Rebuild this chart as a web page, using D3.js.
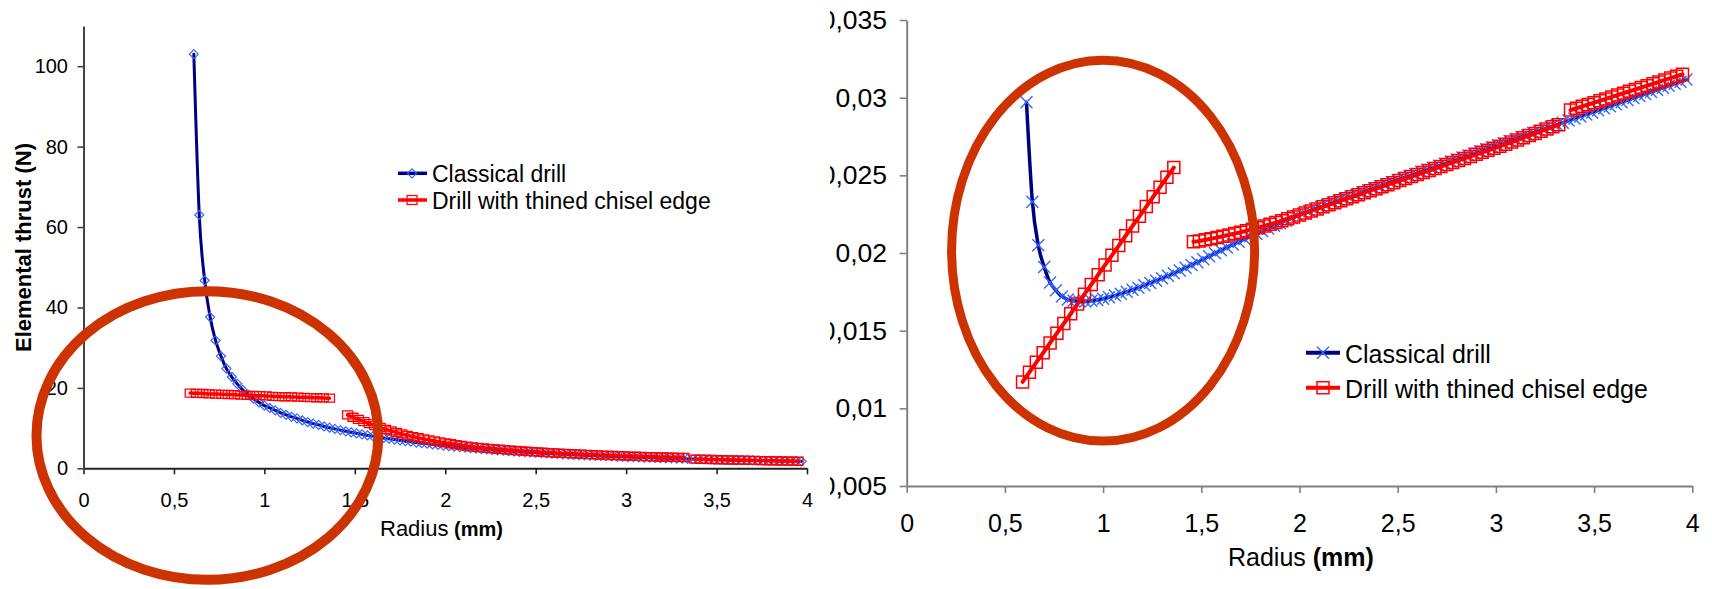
<!DOCTYPE html>
<html><head><meta charset="utf-8">
<script src="https://cdn.jsdelivr.net/npm/d3@7"></script>
<style>body{margin:0;background:#fff;overflow:hidden}</style>
</head><body>
<svg id="c" width="1712" height="589"></svg>
<script>
// ---------------- DATA ----------------
const seriesNames = ["Classical drill", "Drill with thined chisel edge"];

const classicalRadius = [
0.61,0.64,0.67,0.70,0.73,0.76,0.79,0.82,0.85,0.88,
0.91,0.94,0.97,1.00,1.03,1.06,1.09,1.12,1.15,1.18,
1.21,1.24,1.27,1.30,1.33,1.36,1.39,1.42,1.45,1.48,
1.51,1.54,1.57,1.60,1.63,1.66,1.69,1.72,1.75,1.78,
1.81,1.84,1.87,1.90,1.93,1.96,1.99,2.02,2.05,2.08,
2.11,2.14,2.17,2.20,2.23,2.26,2.29,2.32,2.35,2.38,
2.41,2.44,2.47,2.50,2.53,2.56,2.59,2.62,2.65,2.68,
2.71,2.74,2.77,2.80,2.83,2.86,2.89,2.92,2.95,2.98,
3.01,3.04,3.07,3.10,3.13,3.16,3.19,3.22,3.25,3.28,
3.31,3.34,3.37,3.40,3.43,3.46,3.49,3.52,3.55,3.58,
3.61,3.64,3.67,3.70,3.73,3.76,3.79,3.82,3.85,3.88,
3.91,3.94,3.97];

// Elemental thrust (N), left chart
const classicalThrust = [
103,63,46.7,37.6,31.8,27.9,24.8,22.7,21.0,19.5,
18.3,17.3,16.4,15.6,15.0,14.4,13.8,13.3,12.8,12.4,
11.9,11.5,11.1,10.8,10.4,10.1,9.8,9.5,9.2,8.95,
8.7,8.45,8.2,8.0,7.75,7.55,7.35,7.15,6.95,6.75,
6.6,6.4,6.25,6.1,5.95,5.8,5.65,5.5,5.38,5.25,
5.12,5.0,4.9,4.78,4.67,4.57,4.47,4.37,4.28,4.19,
4.1,4.01,3.93,3.85,3.77,3.7,3.62,3.55,3.48,3.42,
3.35,3.29,3.23,3.17,3.11,3.06,3.0,2.95,2.9,2.85,
2.8,2.75,2.7,2.66,2.62,2.57,2.53,2.49,2.45,2.41,
2.37,2.34,2.3,2.27,2.23,2.2,2.17,2.14,2.1,2.07,
2.04,2.02,1.99,1.96,1.93,1.91,1.88,1.86,1.83,1.81,
1.78,1.76,1.74];

// right chart values
const classicalRight = [
0.0297,0.0233,0.0205,0.0191,0.0181,0.0176,0.0172,0.0170,0.01693,0.01688,
0.01688,0.01692,0.01698,0.01705,0.01715,0.01726,0.01738,0.0175,0.01763,0.01777,
0.01792,0.01807,0.01822,0.01837,0.01853,0.01869,0.01887,0.01905,0.01923,0.01941,
0.0196,0.01979,0.01998,0.02017,0.02036,0.02054,0.02072,0.0209,0.02107,0.02124,
0.02141,0.02158,0.02175,0.02192,0.02208,0.02224,0.0224,0.02255,0.0227,0.02285,
0.02298,0.02311,0.02325,0.02338,0.02351,0.02364,0.02377,0.02391,0.02404,0.02417,
0.0243,0.02443,0.02457,0.0247,0.02483,0.02496,0.02509,0.02523,0.02536,0.02549,
0.02562,0.02575,0.02589,0.02602,0.02615,0.02628,0.02641,0.02655,0.02668,0.02681,
0.02694,0.02707,0.02721,0.02734,0.02747,0.0276,0.02773,0.02787,0.028,0.02813,
0.02826,0.02839,0.02853,0.02866,0.02879,0.02892,0.02905,0.02919,0.02932,0.02945,
0.02958,0.02971,0.02985,0.02998,0.03011,0.03024,0.03037,0.03051,0.03064,0.03077,
0.0309,0.03103,0.03117];

// thinned chisel edge: null values mark breaks in the line
const thinnedRadius = [
0.59,0.625,0.66,0.695,0.73,0.765,0.80,0.835,0.87,0.905,0.94,0.975,1.01,1.045,1.08,1.115,1.15,1.185,1.22,1.255,1.29,1.325,1.36,
1.41,
1.46,1.49,1.52,1.55,1.58,1.61,1.64,1.67,1.70,1.73,1.76,1.79,1.82,1.85,1.88,1.91,1.94,1.97,2.00,2.03,
2.06,2.09,2.12,2.15,2.18,2.21,2.24,2.27,2.30,2.33,2.36,2.39,2.42,2.45,2.48,2.51,2.54,2.57,2.60,2.63,
2.66,2.69,2.72,2.75,2.78,2.81,2.84,2.87,2.90,2.93,2.96,2.99,3.02,3.05,3.08,3.11,3.14,3.17,3.20,3.23,
3.26,3.29,3.32,
3.35,
3.38,3.41,3.44,3.47,3.50,3.53,3.56,3.59,3.62,3.65,3.68,3.71,3.74,3.77,3.80,3.83,3.86,3.89,3.92,3.95];

const thinnedThrust = [
18.7,18.65,18.6,18.5,18.45,18.4,18.35,18.3,18.2,18.15,18.1,18.05,18.0,17.9,17.85,17.8,17.75,17.7,17.65,17.6,17.55,17.5,17.45,
null,
13.3,12.7,12.15,11.6,11.1,10.6,10.15,9.7,9.3,8.9,8.55,8.2,7.9,7.6,7.3,7.05,6.8,6.55,6.3,6.1,
5.9,5.7,5.5,5.35,5.2,5.08,4.96,4.85,4.74,4.63,4.53,4.43,4.33,4.24,4.15,4.07,3.99,3.91,3.84,3.77,
3.7,3.63,3.57,3.51,3.45,3.39,3.33,3.28,3.23,3.18,3.13,3.08,3.04,3.0,2.96,2.92,2.88,2.84,2.81,2.78,
2.75,2.72,2.69,
null,
2.29,2.25,2.22,2.19,2.16,2.13,2.09,2.06,2.03,2.01,1.98,1.95,1.92,1.9,1.87,1.85,1.82,1.8,1.77,1.75];

const thinnedRight = [
0.0117,0.01233,0.01296,0.01358,0.01421,0.01484,0.01546,0.01609,0.01672,0.01735,0.01797,0.0186,0.01923,0.01985,0.02048,0.02111,0.02174,0.02236,0.02299,0.02362,0.02424,0.02487,0.0255,
null,
0.02072,0.02078,0.02085,0.02092,0.021,0.02108,0.02116,0.02125,0.02134,0.02143,0.02153,0.02163,0.02174,0.02185,0.02196,0.02208,0.0222,0.02232,0.02245,0.02258,
0.02271,0.02284,0.02297,0.0231,0.02323,0.02336,0.02349,0.02362,0.02375,0.02388,0.02401,0.02414,0.02427,0.0244,0.02453,0.02466,0.02479,0.02492,0.02505,0.02518,
0.02531,0.02544,0.02557,0.0257,0.02583,0.02596,0.02609,0.02622,0.02635,0.02648,0.02661,0.02674,0.02687,0.027,0.02714,0.02728,0.02742,0.02756,0.0277,0.02784,
0.02798,0.02812,0.02826,
null,
0.0292,0.02932,0.02944,0.02956,0.02968,0.0298,0.02992,0.03005,0.03017,0.03029,0.03041,0.03053,0.03065,0.03077,0.03089,0.03101,0.03114,0.03126,0.03138,0.0315];

const xTickValues = [0,0.5,1,1.5,2,2.5,3,3.5,4];
const xTickLabels = ["0","0,5","1","1,5","2","2,5","3","3,5","4"];
const leftYTickValues = [0,20,40,60,80,100];
const leftYTickLabels = ["0","20","40","60","80","100"];
const rightYTickValues = [0.005,0.01,0.015,0.02,0.025,0.03,0.035];
const rightYTickLabels = ["0,005","0,01","0,015","0,02","0,025","0,03","0,035"];

// highlight ellipses (data units: center x, center y, radius x, radius y)
const leftEllipse = [0.685, 8.16, 0.945, 35.9];
const rightEllipse = [1.0, 0.02015, 0.7715, 0.01226];

// ---------------- DRAW ----------------
const FONT = '"Liberation Sans", Arial, Helvetica, sans-serif';
const NAVY = '#000080', LBLUE = '#3366ff', RED = '#ff0000', ORANGE = '#cc3300';
const svg = d3.select('#c');

function zip(xs, ys){ return xs.map((x,i)=>({x:x, y: ys[i]})); }

const diamond = r => `M0,${-r}L${r},0L0,${r}L${-r},0Z`;
const cross = r => `M${-r},${-r}L${r},${r}M${-r},${r}L${r},${-r}`;

function drawLine(g, data, xs, ys, color, w){
  const line = d3.line().defined(d=>d.y!=null).x(d=>xs(d.x)).y(d=>ys(d.y)).curve(d3.curveMonotoneX);
  g.append('path').datum(data).attr('d', line).attr('fill','none').attr('stroke',color)
    .attr('stroke-width',w).attr('stroke-linejoin','round').attr('stroke-linecap','round');
}
function drawMarkers(g, data, xs, ys, kind, size, color, sw){
  const pts = data.filter(d=>d.y!=null);
  const sel = g.append('g').selectAll('path').data(pts).join('path')
    .attr('transform', d=>`translate(${xs(d.x)},${ys(d.y)})`)
    .attr('fill','none').attr('stroke',color).attr('stroke-width',sw);
  if(kind==='diamond') sel.attr('d', diamond(size));
  else if(kind==='cross') sel.attr('d', cross(size));
  else sel.attr('d', `M${-size[0]},${-size[1]}H${size[0]}V${size[1]}H${-size[0]}Z`);
}
function styleAxis(g, color, fs){
  g.attr('font-family', FONT).attr('font-size', fs);
  g.select('.domain').attr('stroke', color).attr('stroke-width', 2);
  g.selectAll('.tick line').attr('stroke', color).attr('stroke-width', 1.6);
  g.selectAll('.tick text').attr('fill', '#000');
}

// ===== LEFT CHART =====
const xL = d3.scaleLinear().domain([0,4]).range([83.5,807]);
const yL = d3.scaleLinear().domain([0,110]).range([468.3,26]);

const gxL = svg.append('g').attr('transform',`translate(0,${yL(0)})`)
  .call(d3.axisBottom(xL).tickValues(xTickValues).tickFormat((d,i)=>xTickLabels[i]).tickSize(6).tickSizeOuter(0).tickPadding(19));
styleAxis(gxL, '#222', 20);
const gyL = svg.append('g').attr('transform',`translate(${xL(0)},0)`)
  .call(d3.axisLeft(yL).tickValues(leftYTickValues).tickFormat((d,i)=>leftYTickLabels[i]).tickSize(6).tickSizeOuter(0).tickPadding(9.5));
styleAxis(gyL, '#444', 20);

svg.append('text').attr('transform','translate(31,247.5) rotate(-90)').attr('text-anchor','middle')
  .attr('font-family',FONT).attr('font-size',22).attr('font-weight','bold').text('Elemental thrust (N)');
const xtL = svg.append('text').attr('x',380).attr('y',536).attr('font-family',FONT);
xtL.append('tspan').attr('font-size',22).text('Radius');
xtL.append('tspan').attr('font-size',20).attr('font-weight','bold').text(' (mm)');

const pL = svg.append('g');
const cL = zip(classicalRadius, classicalThrust), tL = zip(thinnedRadius, thinnedThrust);
drawLine(pL, cL, xL, yL, NAVY, 3);
drawMarkers(pL, cL, xL, yL, 'diamond', 4.5, LBLUE, 1.2);
drawLine(pL, tL, xL, yL, RED, 3.5);
drawMarkers(pL, tL, xL, yL, 'square', [5,4], RED, 1.3);

// left legend
const lgL = svg.append('g').attr('font-family',FONT).attr('font-size',23);
[[173.3, NAVY, 'diamond'], [200, RED, 'square']].forEach((r,i)=>{
  lgL.append('line').attr('x1',398).attr('x2',427).attr('y1',r[0]).attr('y2',r[0]).attr('stroke',r[1]).attr('stroke-width',3.5);
  if(r[2]==='diamond') lgL.append('path').attr('d',diamond(4.5)).attr('transform',`translate(412,${r[0]})`).attr('fill','none').attr('stroke',LBLUE).attr('stroke-width',1.2);
  else lgL.append('rect').attr('x',407).attr('y',r[0]-4.5).attr('width',10).attr('height',9).attr('fill','none').attr('stroke',RED).attr('stroke-width',1.2);
  lgL.append('text').attr('x',432).attr('y',r[0]+8.5).text(seriesNames[i]);
});

svg.append('ellipse').attr('cx',xL(leftEllipse[0])).attr('cy',yL(leftEllipse[1]))
  .attr('rx',xL(leftEllipse[2])-xL(0)).attr('ry',yL(0)-yL(leftEllipse[3]))
  .attr('fill','none').attr('stroke',ORANGE).attr('stroke-width',10);

// ===== RIGHT CHART =====
const xR = d3.scaleLinear().domain([0,4]).range([906.7,1692.3]);
const yR = d3.scaleLinear().domain([0.005,0.035]).range([486,20]);

svg.append('clipPath').attr('id','rclip').append('rect').attr('x',830).attr('y',0).attr('width',882).attr('height',589);

const gxR = svg.append('g').attr('transform',`translate(0,${yR(0.005)})`)
  .call(d3.axisBottom(xR).tickValues(xTickValues).tickFormat((d,i)=>xTickLabels[i]).tickSize(7).tickSizeOuter(0).tickPadding(21));
styleAxis(gxR, '#808080', 25);
const gyR = svg.append('g').attr('clip-path','url(#rclip)').append('g').attr('transform',`translate(${xR(0)},0)`)
  .call(d3.axisLeft(yR).tickValues(rightYTickValues).tickFormat((d,i)=>rightYTickLabels[i]).tickSize(7).tickSizeOuter(0).tickPadding(12.7));
styleAxis(gyR, '#808080', 26.5);

const xtR = svg.append('text').attr('x',1228).attr('y',566).attr('font-family',FONT).attr('font-size',25);
xtR.append('tspan').text('Radius');
xtR.append('tspan').attr('font-weight','bold').text(' (mm)');

const pR = svg.append('g');
const cR = zip(classicalRadius, classicalRight), tR = zip(thinnedRadius, thinnedRight);
drawLine(pR, cR, xR, yR, NAVY, 3.5);
drawMarkers(pR, cR, xR, yR, 'cross', 6, LBLUE, 1.4);
drawLine(pR, tR, xR, yR, RED, 4);
drawMarkers(pR, tR, xR, yR, 'square', [6,6], RED, 1.5);

const lgR = svg.append('g').attr('font-family',FONT).attr('font-size',25);
[[352.7, NAVY, 'cross'], [387.7, RED, 'square']].forEach((r,i)=>{
  lgR.append('line').attr('x1',1306).attr('x2',1340).attr('y1',r[0]).attr('y2',r[0]).attr('stroke',r[1]).attr('stroke-width',4);
  if(r[2]==='cross') lgR.append('path').attr('d',cross(6)).attr('transform',`translate(1323,${r[0]})`).attr('fill','none').attr('stroke',LBLUE).attr('stroke-width',1.4);
  else lgR.append('rect').attr('x',1317).attr('y',r[0]-6).attr('width',12).attr('height',12).attr('fill','none').attr('stroke',RED).attr('stroke-width',1.5);
  lgR.append('text').attr('x',1345).attr('y',r[0]+10).text(seriesNames[i]);
});

svg.append('ellipse').attr('cx',xR(rightEllipse[0])).attr('cy',yR(rightEllipse[1]))
  .attr('rx',xR(rightEllipse[2])-xR(0)).attr('ry',yR(0.005)-yR(0.005+rightEllipse[3]))
  .attr('fill','none').attr('stroke',ORANGE).attr('stroke-width',9);
</script>
</body></html>
